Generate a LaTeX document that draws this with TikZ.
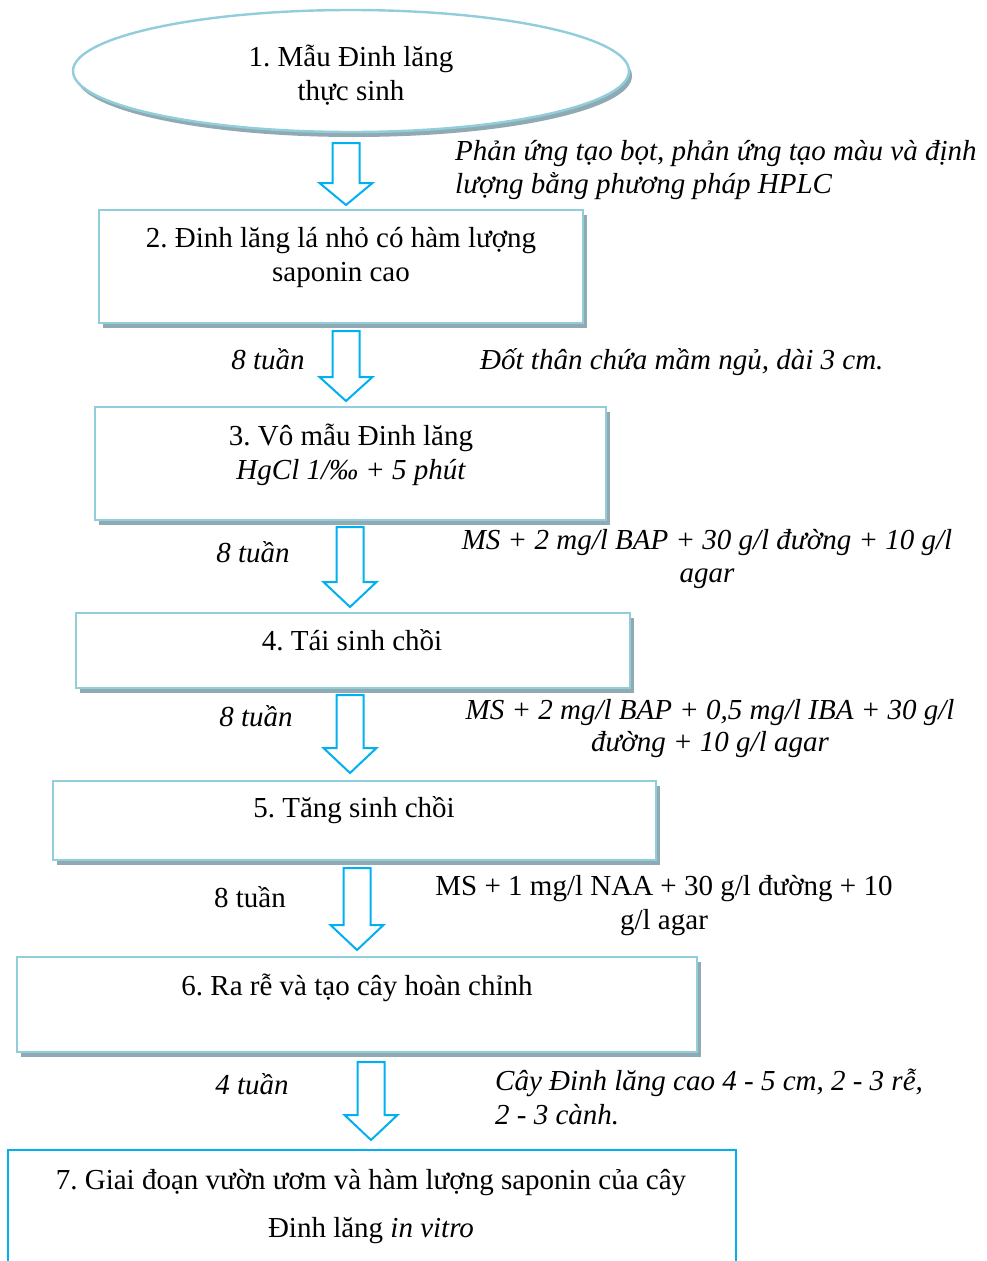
\documentclass[tikz,border=0pt]{standalone}
\usepackage{fontspec}
\setmainfont{Liberation Serif}
\frenchspacing
\usetikzlibrary{shadows,shapes.geometric}
\definecolor{boxblue}{RGB}{146,205,220}
\definecolor{shadowgrey}{RGB}{143,170,178}
\definecolor{arrowblue}{RGB}{0,176,240}
\tikzset{
  stepbox/.style={draw=boxblue, line width=2.4pt, fill=white, rectangle, inner sep=0pt,
    drop shadow={shadow xshift=4pt, shadow yshift=-5pt, fill=shadowgrey, opacity=1}},
  lastbox/.style={draw=arrowblue, line width=2pt, fill=white, rectangle, inner sep=0pt},
  startell/.style={draw=boxblue, line width=2.4pt, fill=white, ellipse, inner sep=0pt,
    drop shadow={shadow xshift=3pt, shadow yshift=-5pt, fill=shadowgrey, opacity=1}},
  txt/.style={inner sep=0pt, anchor=base, font=\fontsize{29}{34}\selectfont\frenchspacing},
  txtl/.style={txt, anchor=base west},
  itx/.style={txt, font=\fontsize{29}{34}\selectfont\itshape\frenchspacing},
  itxl/.style={itx, anchor=base west},
  blockarrow/.style={draw=arrowblue, line width=2pt, fill=white, line join=miter}
}
\newcommand\DownArrow[4]{% cx, top, headstart, tip
  \draw[blockarrow] (#1-13.5,#2) -- (#1+13.5,#2) -- (#1+13.5,#3) -- (#1+26.5,#3)
    -- (#1,#4) -- (#1-26.5,#3) -- (#1-13.5,#3) -- cycle;}
\begin{document}
\begin{tikzpicture}[x=1pt,y=-1pt]
\useasboundingbox (0,0) rectangle (986,1261);
\clip (0,0) rectangle (986,1261);
% shapes
\node[startell, minimum width=556, minimum height=122] (e1) at (351,71) {};
\node[stepbox, minimum width=484, minimum height=113] (b2) at (341,266.5) {};
\node[stepbox, minimum width=511, minimum height=113] (b3) at (350.5,463.5) {};
\node[stepbox, minimum width=554, minimum height=75] (b4) at (353,650.5) {};
\node[stepbox, minimum width=603, minimum height=79] (b5) at (354.5,820.5) {};
\node[stepbox, minimum width=680, minimum height=95] (b6) at (357,1004.5) {};
\node[lastbox, minimum width=728, minimum height=160] (b7) at (372,1230) {};
% arrows
\DownArrow{346}{143}{183}{205}
\DownArrow{346}{331}{377}{401}
\DownArrow{350}{527}{582}{607}
\DownArrow{350}{695}{748}{773}
\DownArrow{357}{868}{925}{950}
\DownArrow{371}{1062}{1115}{1140}
% box texts
\node[txt] (t1a) at (351,66) {1. Mẫu Đinh lăng};
\node[txt] (t1b) at (351,100) {thực sinh};
\node[txt] (t2a) at (341,247) {2. Đinh lăng lá nhỏ có hàm lượng};
\node[txt] (t2b) at (341,281) {saponin cao};
\node[txt] (t3a) at (351,445) {3. Vô mẫu Đinh lăng};
\node[itx] (t3b) at (351,479) {HgCl 1/‰ + 5 phút};
\node[txt] (t4) at (352,650) {4. Tái sinh chồi};
\node[txt] (t5) at (354,817) {5. Tăng sinh chồi};
\node[txt] (t6) at (357,995) {6. Ra rễ và tạo cây hoàn chỉnh};
\node[txt] (t7a) at (371,1189) {7. Giai đoạn vườn ươm và hàm lượng saponin của cây};
\node[txt] (t7b) at (371,1237) {Đinh lăng \textit{in vitro}};
% side texts
\node[itxl] (s1a) at (455,160) {Phản ứng tạo bọt, phản ứng tạo màu và định};
\node[itxl] (s1b) at (455,193) {lượng bằng phương pháp HPLC};
\node[itx] (w2) at (268,369) {8 tuần};
\node[itxl] (s2) at (480,369) {Đốt thân chứa mầm ngủ, dài 3 cm.};
\node[itx] (w3) at (253,562) {8 tuần};
\node[itx] (s3a) at (707,549) {MS + 2 mg/l BAP + 30 g/l đường + 10 g/l};
\node[itx] (s3b) at (707,582) {agar};
\node[itx] (w4) at (256,726) {8 tuần};
\node[itx] (s4a) at (710,719) {MS + 2 mg/l BAP + 0,5 mg/l IBA + 30 g/l};
\node[itx] (s4b) at (710,751) {đường + 10 g/l agar};
\node[txt] (w5) at (250,907) {8 tuần};
\node[txt] (s5a) at (664,895) {MS + 1 mg/l NAA + 30 g/l đường + 10};
\node[txt] (s5b) at (664,929) {g/l agar};
\node[itx] (w6) at (252,1094) {4 tuần};
\node[itxl] (s6a) at (495,1090) {Cây Đinh lăng cao 4 - 5 cm, 2 - 3 rễ,};
\node[itxl] (s6b) at (495,1124) {2 - 3 cành.};
\end{tikzpicture}
\end{document}
